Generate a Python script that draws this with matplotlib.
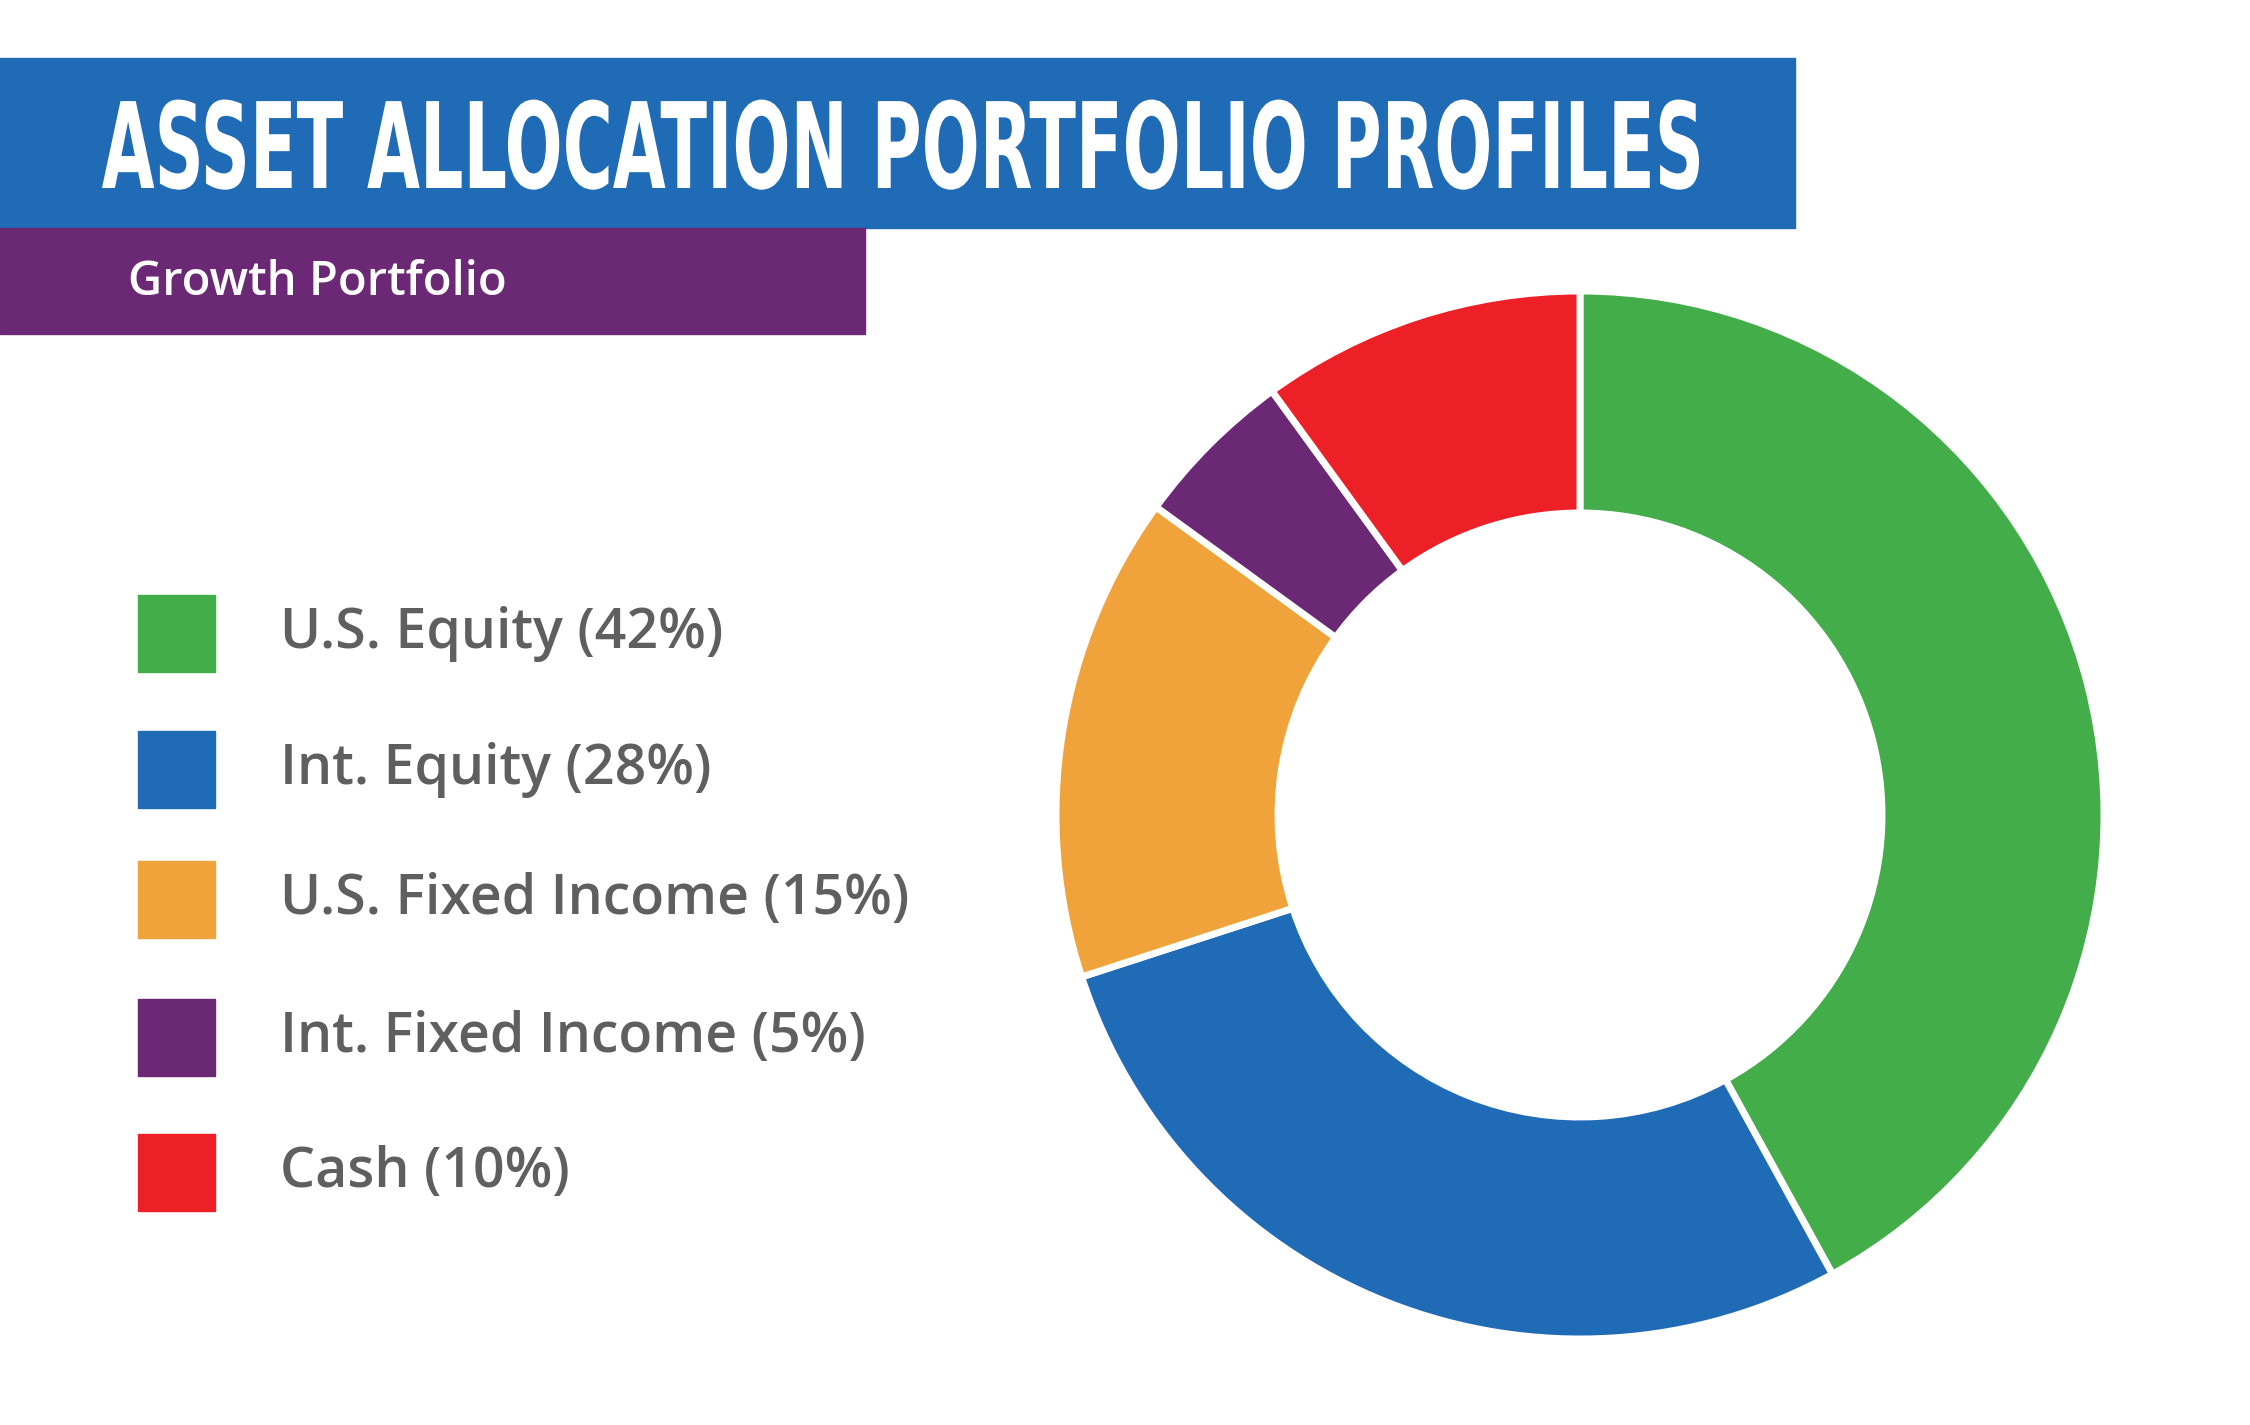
import matplotlib
matplotlib.use("Agg")
import matplotlib.pyplot as plt
from matplotlib.patches import Rectangle, PathPatch
from matplotlib.textpath import TextPath
from matplotlib.font_manager import FontProperties
from matplotlib.transforms import Affine2D

labels = ["U.S. Equity", "Int. Equity", "U.S. Fixed Income", "Int. Fixed Income", "Cash"]
shares = [42, 28, 15, 5, 10]
colors = ["#43ad49", "#1f6bb5", "#f0a33b", "#6b2874", "#ed2027"]
title = "ASSET ALLOCATION PORTFOLIO PROFILES"

fig = plt.figure(figsize=(22.5, 14.25), dpi=100)
ax = fig.add_axes([0, 0, 1, 1])

# donut, clockwise from 12 o'clock
ax.pie(shares, colors=colors, startangle=90, counterclock=False,
       center=(1580, 610), radius=524,
       wedgeprops=dict(width=222, edgecolor="white", linewidth=5))

# header bars
ax.add_patch(Rectangle((0, 1197), 1795, 170, color="#1f6bb5"))
ax.add_patch(Rectangle((0, 1091), 865, 106, color="#6b2874"))

# condensed heavy title: squeeze a bold text path horizontally
tp = TextPath((0, 0), title, size=100, prop=FontProperties(family="DejaVu Sans", weight="heavy"))
ext = tp.get_extents()
sx = 1597 / ext.width
sy = 87 / 73.0
tr = Affine2D().translate(-ext.x0, 0).scale(sx, sy).translate(102, 1237)
ax.add_patch(PathPatch(tr.transform_path(tp), color="white", lw=0))

ax.text(128, 1143, "Growth Portfolio", color="white", fontsize=34,
        family="Open Sans", fontweight="semibold", va="center", ha="left")

# legend
ys = [791, 655, 525, 387, 252]
for y, lab, v, c in zip(ys, labels, shares, colors):
    ax.add_patch(Rectangle((138, y - 38), 77, 77, color=c))
    ax.text(280, y, f"{lab} ({v}%)", color="#5f5f5f", fontsize=40,
            family="Open Sans", fontweight="semibold", va="center", ha="left")

ax.set_xlim(0, 2250)
ax.set_ylim(0, 1425)
ax.set_aspect("equal")
ax.axis("off")
fig.savefig("out.png", dpi=100)
